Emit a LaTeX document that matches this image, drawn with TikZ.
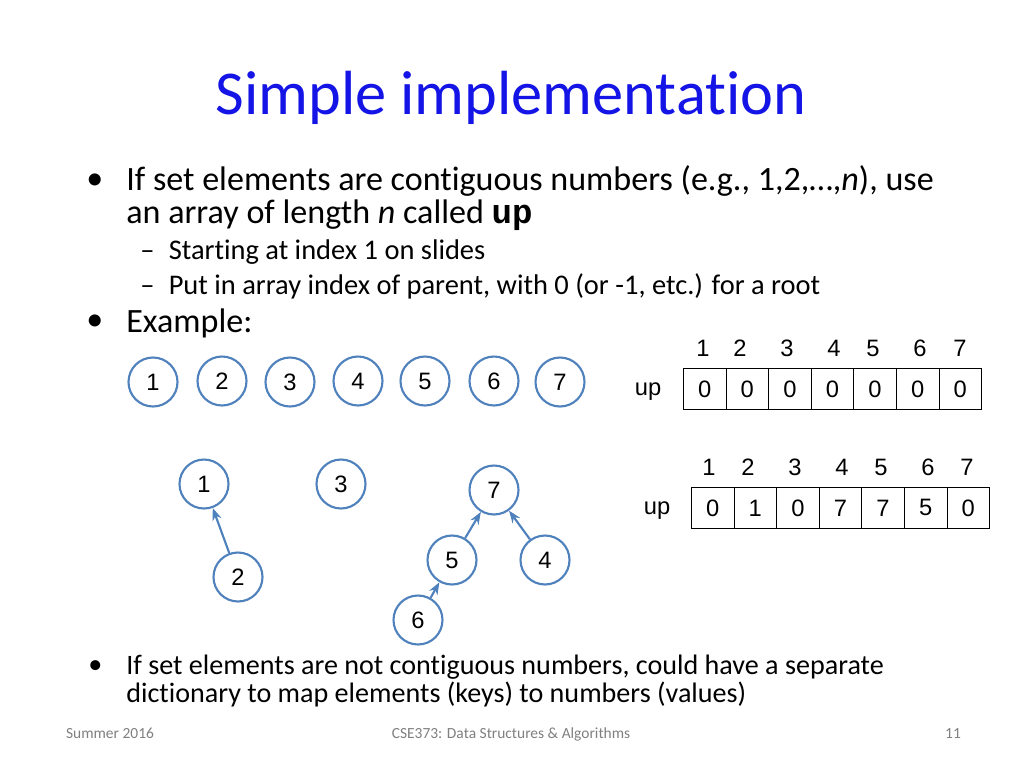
\documentclass[tikz,border=0pt]{standalone}
\usepackage{fontspec}
\setmainfont[Ligatures=NoCommon]{Carlito}
\newfontfamily\arialfont{Liberation Sans}
\newfontfamily\codefont{Liberation Mono}
\usetikzlibrary{arrows.meta}
\definecolor{nodeblue}{RGB}{79,129,189}
\definecolor{titleblue}{RGB}{20,20,230}
\tikzset{
  elem/.style={circle, draw=nodeblue, line width=1.2pt, fill=white, minimum size=0.98cm, inner sep=0pt, font=\arialfont\fontsize{13.5}{15}\selectfont},
  link/.style={draw=nodeblue, line width=1.2pt, -{Stealth[length=7pt]}},
  cell/.style={draw, minimum width=0.852cm, minimum height=0.82cm, inner sep=0pt, anchor=north west, font=\arialfont\fontsize{13.5}{15}\selectfont},
  idx/.style={font=\arialfont\fontsize{13.5}{15}\selectfont},
  body/.style={anchor=west, font=\fontsize{19.4}{18.4}\selectfont, align=left, inner sep=0pt},
  small/.style={anchor=west, font=\fontsize{16}{15.5}\selectfont, align=left, inner sep=0pt},
  sub/.style={anchor=west, font=\fontsize{16.2}{19}\selectfont, inner sep=0pt},
  foot/.style={anchor=base, font=\fontsize{8.8}{10}\selectfont, text=gray}
}
\begin{document}
\begin{tikzpicture}[x=0.02cm, y=-0.02cm]
  \useasboundingbox[fill=white] (0,0) rectangle (1024,768);
  % title and text
  \node[font=\fontsize{35.5}{40}\selectfont, text=titleblue] (title) at (511,98) {Simple implementation};
  \node[body] (b1) at (86,182) {•};
  \node[body] (t1) at (126,198) {If set elements are contiguous numbers (e.g., 1,2,…,\textit{n}), use\\an array of length \textit{n} called {\codefont\bfseries up}};
  \node[sub] (s1) at (140,252) {–\enspace Starting at index 1 on slides};
  \node[sub] (s2) at (140,286) {–\enspace Put in array index of parent, with 0 (or -1, etc.) for a root};
  \node[body] (b2) at (86,323) {•};
  \node[body] (t2) at (126,323) {Example:};
  \node[small] (b3) at (88,667) {•};
  \node[small] (t3) at (126,681) {If set elements are not contiguous numbers, could have a separate\\dictionary to map elements (keys) to numbers (values)};
  \node[foot] (f1) at (110,738) {Summer 2016};
  \node[foot] (f2) at (511,738) {CSE373: Data Structures \& Algorithms};
  \node[foot] (f3) at (953,738) {11};
  % first row of elements
  \foreach \n/\x/\y in {1/153/382, 2/222/381, 3/290/382, 4/358/381, 5/425/381, 6/494/381, 7/560/382}
    \node[elem] (a\n) at (\x,\y) {\n};
  % trees
  \foreach \n/\x/\y in {1/204/484, 3/341/484, 7/494/490, 2/238/577, 5/452/560, 4/545/560, 6/418/620}
    \node[elem] (t\n) at (\x,\y) {\n};
  \draw[link] (t2) -- (t1);
  \draw[link] (t5) -- (t7);
  \draw[link] (t4) -- (t7);
  \draw[link] (t6) -- (t5);
  % arrays
  \node[idx] (upa) at (648,392) {up};
  \foreach \i/\v in {1/0,2/0,3/0,4/0,5/0,6/0,7/0}
    \node[cell] (ca\i) at ({683+42.6*(\i-1)},368) {\v};
  \foreach \i/\x in {1/703,2/740,3/787,4/834,5/873,6/920,7/960}
    \node[idx] (ia\i) at (\x,348) {\i};
  \node[idx] (upb) at (657,511) {up};
  \foreach \i/\v in {1/0,2/1,3/0,4/7,5/7,6/5,7/0}
    \node[cell] (cb\i) at ({691+42.6*(\i-1)},487) {\v};
  \foreach \i/\x in {1/709,2/748,3/795,4/842,5/881,6/928,7/967}
    \node[idx] (ib\i) at (\x,467) {\i};
\end{tikzpicture}
\end{document}
